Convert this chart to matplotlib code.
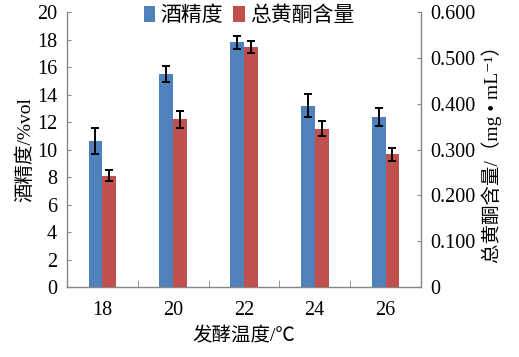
import matplotlib
matplotlib.use("Agg")
import matplotlib.pyplot as plt
from matplotlib import font_manager
import numpy as np

# fermentation temperature (C)
temps = ["18", "20", "22", "24", "26"]
alcohol = [10.6, 15.5, 17.8, 13.2, 12.4]          # %vol
alcohol_err = [0.95, 0.55, 0.5, 0.85, 0.65]
flavone = [0.243, 0.366, 0.524, 0.346, 0.290]     # mg/mL
flavone_err = [0.012, 0.018, 0.013, 0.017, 0.014]

names = {f.name for f in font_manager.fontManager.ttflist}
serif = "Liberation Serif" if "Liberation Serif" in names else "DejaVu Serif"
plt.rcParams["font.family"] = [serif, "Noto Sans CJK SC", "DejaVu Sans"]

fig = plt.figure(figsize=(5.19, 3.57), dpi=100)
ax = fig.add_axes([0.129, 0.196, 0.682, 0.770])
ax2 = ax.twinx()

x = np.arange(len(temps))
w = 0.195
ekw = dict(ecolor="black", elinewidth=1.4, capsize=3.2, capthick=1.4)
b1 = ax.bar(x - w / 2, alcohol, w, color="#4F81BD", yerr=alcohol_err,
            error_kw=ekw, label="酒精度")
b2 = ax2.bar(x + w / 2, flavone, w, color="#C0504D", yerr=flavone_err,
             error_kw=ekw, label="总黄酮含量")

ax.set_xlim(-0.5, len(temps) - 0.5)
ax.set_ylim(0, 20)
ax2.set_ylim(0, 0.6)
ax.set_yticks(range(0, 21, 2))
ax2.set_yticks([0, 0.1, 0.2, 0.3, 0.4, 0.5, 0.6])
ax2.set_yticklabels(["0", "0.100", "0.200", "0.300", "0.400", "0.500", "0.600"])

ax.set_xticks(x)
ax.set_xticklabels(temps)
ax.set_xticks(np.arange(-0.5, len(temps) - 0.4, 1), minor=True)
ax.tick_params(axis="x", which="major", length=0, pad=10, labelsize=14.5)
ax.tick_params(axis="x", which="minor", direction="in", length=5, color="#868686")
ax.tick_params(axis="y", direction="in", length=3, color="#868686", labelsize=14.5, pad=7)
ax2.tick_params(axis="y", direction="in", length=3, color="#868686", labelsize=14.5, pad=7)

for a in (ax, ax2):
    a.spines["top"].set_visible(False)
    for s in ("left", "right", "bottom"):
        a.spines[s].set_color("#868686")
        a.spines[s].set_linewidth(1.0)
ax.spines["right"].set_visible(False)
ax2.spines["left"].set_visible(False)
ax2.spines["bottom"].set_visible(False)

ax.set_xlabel("发酵温度/℃", fontsize=14, labelpad=5)
ax.set_ylabel("酒精度/%vol", fontsize=14, labelpad=2)
ax2.set_ylabel("总黄酮含量/（mg • mL⁻¹）", fontsize=14, labelpad=4)

fig.legend([b1, b2], ["酒精度", "总黄酮含量"], loc="upper center",
           bbox_to_anchor=(0.48, 1.035), ncol=2, frameon=False, fontsize=15,
           handlelength=0.55, handleheight=0.75, handletextpad=0.25, columnspacing=0.5)

fig.savefig("out.png", dpi=100)
